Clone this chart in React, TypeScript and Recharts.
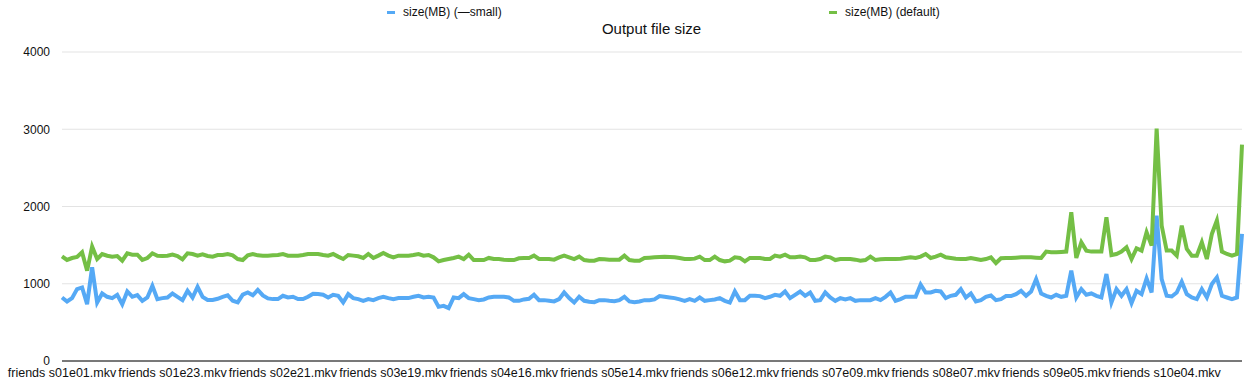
import React from 'react';
import { LineChart, Line, XAxis, YAxis, CartesianGrid } from 'recharts';

const seasonEpisodeCounts = [24, 24, 25, 24, 24, 25, 24, 24, 23, 19];
const pad = (n: number) => String(n).padStart(2, '0');
const episodes: string[] = seasonEpisodeCounts.flatMap((count, s) =>
  Array.from({ length: count }, (_, e) => `friends s${pad(s + 1)}e${pad(e + 1)}.mkv`)
);

const tickLabels = [
  'friends s01e01.mkv', 'friends s01e23.mkv', 'friends s02e21.mkv', 'friends s03e19.mkv',
  'friends s04e16.mkv', 'friends s05e14.mkv', 'friends s06e12.mkv', 'friends s07e09.mkv',
  'friends s08e07.mkv', 'friends s09e05.mkv', 'friends s10e04.mkv',
];
const yTicks = [0, 1000, 2000, 3000, 4000];

const sizeSmall = [
  822, 770, 814, 931, 952, 736, 1212, 757, 874, 831, 814, 857, 736, 900, 831, 853, 779, 822, 974, 801, 814, 822, 874, 831, 788, 910,
  820, 960, 830, 790, 790, 805, 830, 850, 780, 760, 860, 887, 850, 920, 850, 810, 801, 801, 844, 822, 831, 801, 801, 831, 870, 866,
  857, 822, 857, 844, 757, 866, 814, 801, 779, 801, 788, 814, 831, 814, 801, 814, 814, 814, 831, 844, 822, 831, 822, 701, 714, 684,
  822, 814, 866, 814, 801, 788, 797, 822, 831, 831, 831, 822, 779, 779, 797, 805, 857, 788, 788, 779, 771, 801, 887, 814, 757, 831,
  779, 766, 762, 788, 788, 779, 775, 788, 831, 771, 762, 771, 788, 788, 797, 840, 831, 822, 814, 797, 779, 801, 779, 822, 779, 788,
  797, 814, 779, 757, 900, 788, 788, 844, 844, 840, 814, 831, 857, 844, 900, 814, 857, 900, 844, 887, 779, 788, 887, 822, 779,
  814, 797, 814, 779, 788, 788, 788, 814, 788, 831, 887, 779, 801, 831, 831, 831, 990, 887, 887, 909, 900, 814, 844, 857, 931, 822,
  874, 771, 788, 831, 848, 788, 801, 840, 840, 866, 909, 844, 900, 1060, 874, 844, 822, 857, 831, 844, 1169, 822, 931, 857, 874,
  844, 822, 1126, 758, 931, 844, 931, 749, 909, 866, 1069, 887, 1883, 1061, 844, 835, 887, 1026, 866, 822, 801, 931, 822, 996, 1082, 844, 822, 801, 822, 1645,
];

const sizeDefault = [
  1355, 1308, 1333, 1346, 1407, 1169, 1480, 1320, 1385, 1363, 1350, 1359, 1299, 1394, 1377, 1377, 1308, 1333, 1394, 1363, 1359, 1363, 1377, 1359, 1316, 1394,
  1385, 1364, 1381, 1360, 1351, 1372, 1372, 1385, 1368, 1320, 1307, 1368, 1385, 1368, 1364, 1364, 1368, 1372, 1385, 1364, 1364, 1364, 1372, 1385, 1385, 1385,
  1372, 1364, 1385, 1351, 1320, 1372, 1364, 1355, 1334, 1385, 1334, 1364, 1398, 1364, 1342, 1364, 1364, 1364, 1372, 1385, 1364, 1372, 1342, 1290, 1307, 1320,
  1334, 1351, 1320, 1376, 1307, 1307, 1307, 1334, 1320, 1320, 1312, 1307, 1307, 1329, 1334, 1334, 1364, 1320, 1320, 1320, 1312, 1342, 1364, 1342, 1320, 1351,
  1307, 1299, 1299, 1320, 1316, 1312, 1312, 1312, 1364, 1307, 1299, 1299, 1334, 1338, 1342, 1346, 1351, 1346, 1342, 1334, 1320, 1320, 1325, 1351, 1307, 1307,
  1351, 1307, 1290, 1299, 1342, 1334, 1290, 1334, 1334, 1334, 1320, 1320, 1364, 1351, 1376, 1342, 1342, 1351, 1342, 1307, 1307, 1320, 1351, 1342, 1307,
  1320, 1320, 1320, 1312, 1299, 1307, 1351, 1307, 1316, 1320, 1320, 1320, 1325, 1334, 1342, 1334, 1351, 1385, 1334, 1351, 1376, 1342, 1334, 1325, 1320, 1320,
  1334, 1320, 1307, 1320, 1342, 1268, 1330, 1334, 1334, 1338, 1342, 1342, 1342, 1338, 1334, 1416, 1407, 1407, 1412, 1416, 1926, 1334, 1537, 1429, 1416,
  1416, 1416, 1861, 1372, 1385, 1416, 1472, 1320, 1459, 1429, 1667, 1494, 3009, 1753, 1429, 1429, 1364, 1753, 1450, 1364, 1364, 1537, 1320, 1645, 1818, 1416, 1385, 1364, 1385, 2801,
];

const seriesNames = ['size(MB) (—small)', 'size(MB) (default)'];
const title = 'Output file size';

const BLUE = '#55a9f5';
const GREEN = '#74bf45';

const data = episodes.map((name, i) => ({ name, small: sizeSmall[i], def: sizeDefault[i] }));

const FONT = '"Liberation Sans", Arial, Helvetica, sans-serif';

export default function App() {
  return (
    <div style={{ position: 'absolute', left: 0, top: 0, width: 1251, height: 388, background: '#fff', fontFamily: FONT }}>
      <LineChart width={1251} height={388} data={data} margin={{ top: 52, right: 9, bottom: 0, left: 0 }}>
        <CartesianGrid vertical={false} stroke="#e3e3e3" strokeWidth={1} />
        <XAxis
          dataKey="name"
          ticks={tickLabels}
          interval={0}
          height={27}
          tickLine={false}
          tickSize={3}
          tickMargin={4}
          axisLine={{ stroke: '#000', strokeWidth: 1 }}
          tick={{ fontSize: 12.5, fill: '#111', fontFamily: FONT }}
        />
        <YAxis
          domain={[0, 4000]}
          ticks={yTicks}
          width={62}
          axisLine={false}
          tickLine={false}
          tickSize={6}
          tickMargin={6}
          tick={{ fontSize: 12, fill: '#111', fontFamily: FONT }}
        />
        <Line type="linear" dataKey="small" name={seriesNames[0]} stroke={BLUE} strokeWidth={4} dot={false} isAnimationActive={false} />
        <Line type="linear" dataKey="def" name={seriesNames[1]} stroke={GREEN} strokeWidth={4} dot={false} isAnimationActive={false} />
      </LineChart>
      <div style={{ position: 'absolute', left: 387, top: 11, width: 8, height: 3, background: BLUE }} />
      <div style={{ position: 'absolute', left: 403, top: 4, fontSize: 12, lineHeight: '16px', color: '#111', whiteSpace: 'nowrap' }}>{seriesNames[0]}</div>
      <div style={{ position: 'absolute', left: 829, top: 11, width: 8, height: 3, background: GREEN }} />
      <div style={{ position: 'absolute', left: 845, top: 4, fontSize: 12, lineHeight: '16px', color: '#111', whiteSpace: 'nowrap' }}>{seriesNames[1]}</div>
      <div style={{ position: 'absolute', left: 0, width: 1251, top: 20, textAlign: 'center', fontSize: 15, lineHeight: '18px', color: '#111', paddingLeft: 52, boxSizing: 'border-box' }}>{title}</div>
    </div>
  );
}
